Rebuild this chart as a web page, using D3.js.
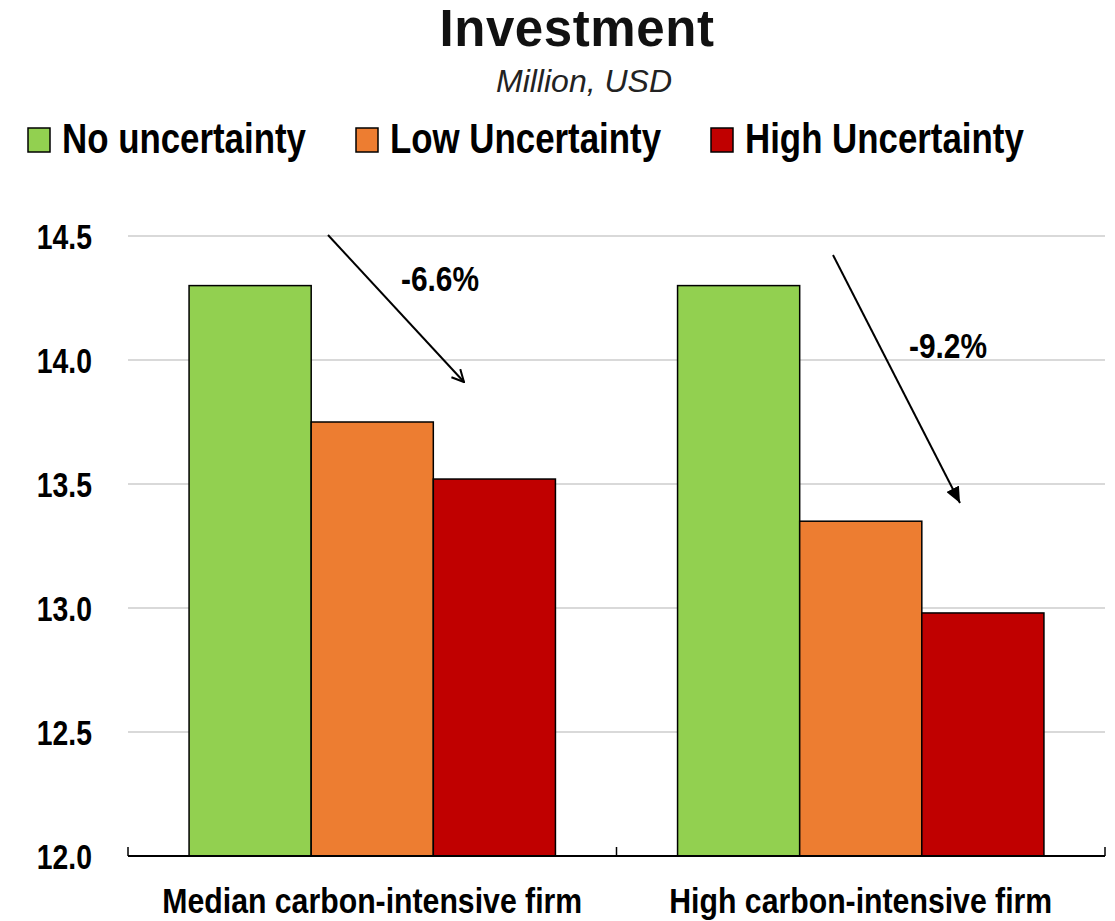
<!DOCTYPE html>
<html>
<head>
<meta charset="utf-8">
<script src="https://cdn.jsdelivr.net/npm/d3@7"></script>
<style>
  html, body { margin: 0; padding: 0; background: #fff; }
  svg { display: block; }
  .narrow { font-family: "Liberation Sans", Arial, sans-serif; font-weight: bold; }
</style>
</head>
<body>
<svg id="chart" width="1115" height="921"></svg>
<script>
// Investment by firm type and uncertainty level (million USD)
const categories = ["Median carbon-intensive firm", "High carbon-intensive firm"];
const seriesNames = ["No uncertainty", "Low Uncertainty", "High Uncertainty"];
const noUncertainty = [14.30, 14.30];
const lowUncertainty = [13.75, 13.35];
const highUncertainty = [13.52, 12.98];
const seriesValues = [noUncertainty, lowUncertainty, highUncertainty];
const seriesColors = ["#92D050", "#ED7D31", "#C00000"];
const yTicks = [12.0, 12.5, 13.0, 13.5, 14.0, 14.5];
const changeLabels = ["-6.6%", "-9.2%"];

const svg = d3.select("#chart");
const plot = { left: 128, right: 1105, top: 236, bottom: 856 };
const NARROW = 0.83; // horizontal squeeze for the condensed bold face

const y = d3.scaleLinear().domain([12.0, 14.5]).range([plot.bottom, plot.top]);
const x0 = d3.scaleBand().domain(categories).range([plot.left, plot.right]).paddingInner(0).paddingOuter(0);
const x1 = d3.scaleBand().domain(seriesNames).range([0, x0.bandwidth()]).paddingInner(0).paddingOuter(0.5);

// condensed bold text placed at (x, y)
function narrowText(parent, x, yPos, size, anchor, str, squeeze = NARROW) {
  return parent.append("text").attr("class", "narrow")
    .attr("transform", `translate(${x},${yPos}) scale(${squeeze},1)`)
    .attr("text-anchor", anchor).attr("font-size", size).attr("fill", "#000").text(str);
}

// Title and subtitle
svg.append("text").attr("x", 577).attr("y", 46).attr("text-anchor", "middle")
  .attr("font-family", "Liberation Sans, Arial, sans-serif").attr("font-weight", "bold")
  .attr("font-size", 51).attr("letter-spacing", 0.6).attr("fill", "#111").text("Investment");
svg.append("text").attr("x", 584).attr("y", 92).attr("text-anchor", "middle")
  .attr("font-family", "Liberation Sans, Arial, sans-serif").attr("font-style", "italic")
  .attr("font-size", 32).attr("fill", "#222").text("Million, USD");

// Legend
const legendX = [28, 356, 711];
const legend = svg.append("g");
seriesNames.forEach((name, i) => {
  legend.append("rect").attr("x", legendX[i]).attr("y", 128).attr("width", 22).attr("height", 24)
    .attr("fill", seriesColors[i]).attr("stroke", "#000").attr("stroke-width", 1.5);
  narrowText(legend, legendX[i] + 34, 153, 42, "start", name);
});

// Gridlines
svg.append("g").selectAll("line").data(yTicks.slice(1)).join("line")
  .attr("x1", plot.left).attr("x2", plot.right)
  .attr("y1", d => y(d)).attr("y2", d => y(d))
  .attr("stroke", "#d9d9d9").attr("stroke-width", 2);

// Y axis labels
const yAxis = d3.axisLeft(y).tickValues(yTicks).tickFormat(d3.format(".1f")).tickSize(0);
const yg = svg.append("g").attr("transform", `translate(${plot.left},0)`).call(yAxis);
yg.select(".domain").remove();
yg.selectAll(".tick text").attr("class", "narrow").attr("x", null).attr("dy", "0.36em")
  .attr("transform", `translate(-36,0) scale(0.81,1)`)
  .attr("text-anchor", "end").attr("font-size", 35).attr("fill", "#000");

// Bars
const groups = svg.append("g").selectAll("g").data(categories).join("g")
  .attr("transform", d => `translate(${x0(d)},0)`);
groups.selectAll("rect").data((d, ci) => seriesNames.map((s, si) => ({ s, si, v: seriesValues[si][ci] })))
  .join("rect")
  .attr("x", d => x1(d.s)).attr("width", x1.bandwidth())
  .attr("y", d => y(d.v)).attr("height", d => y(12.0) - y(d.v))
  .attr("fill", d => seriesColors[d.si]).attr("stroke", "#000").attr("stroke-width", 1.5);

// X axis with ticks at category boundaries
const xAxisG = svg.append("g");
xAxisG.append("line").attr("x1", plot.left).attr("x2", plot.right)
  .attr("y1", plot.bottom).attr("y2", plot.bottom).attr("stroke", "#000").attr("stroke-width", 2);
const boundaries = [plot.left, ...categories.map(c => x0(c) + x0.bandwidth())];
xAxisG.selectAll("line.tick").data(boundaries).join("line").attr("class", "tick")
  .attr("x1", d => d).attr("x2", d => d).attr("y1", plot.bottom).attr("y2", plot.bottom - 9)
  .attr("stroke", "#000").attr("stroke-width", 1.5);
categories.forEach(c => narrowText(xAxisG, x0(c) + x0.bandwidth() / 2, 913, 36, "middle", c, 0.84));

// Change annotations with arrows
const defs = svg.append("defs");
defs.append("marker").attr("id", "openHead").attr("viewBox", "0 0 14 14").attr("refX", 13).attr("refY", 7)
  .attr("markerWidth", 14).attr("markerHeight", 14).attr("markerUnits", "userSpaceOnUse").attr("orient", "auto")
  .append("path").attr("d", "M1,1 L13,7 L1,13").attr("fill", "none").attr("stroke", "#000").attr("stroke-width", 2);
defs.append("marker").attr("id", "fillHead").attr("viewBox", "0 0 16 14").attr("refX", 16).attr("refY", 7)
  .attr("markerWidth", 16).attr("markerHeight", 14).attr("markerUnits", "userSpaceOnUse").attr("orient", "auto")
  .append("path").attr("d", "M0,0 L16,7 L0,14 Z").attr("fill", "#000");

const arrows = [
  { x1: 328, y1: 235, x2: 464, y2: 382, head: "openHead", lx: 440, ly: 291 },
  { x1: 833, y1: 255, x2: 960, y2: 503, head: "fillHead", lx: 948, ly: 358 }
];
arrows.forEach((a, i) => {
  svg.append("line").attr("x1", a.x1).attr("y1", a.y1).attr("x2", a.x2).attr("y2", a.y2)
    .attr("stroke", "#000").attr("stroke-width", 2).attr("marker-end", `url(#${a.head})`);
  narrowText(svg, a.lx, a.ly, 36, "middle", changeLabels[i]);
});
</script>
</body>
</html>
